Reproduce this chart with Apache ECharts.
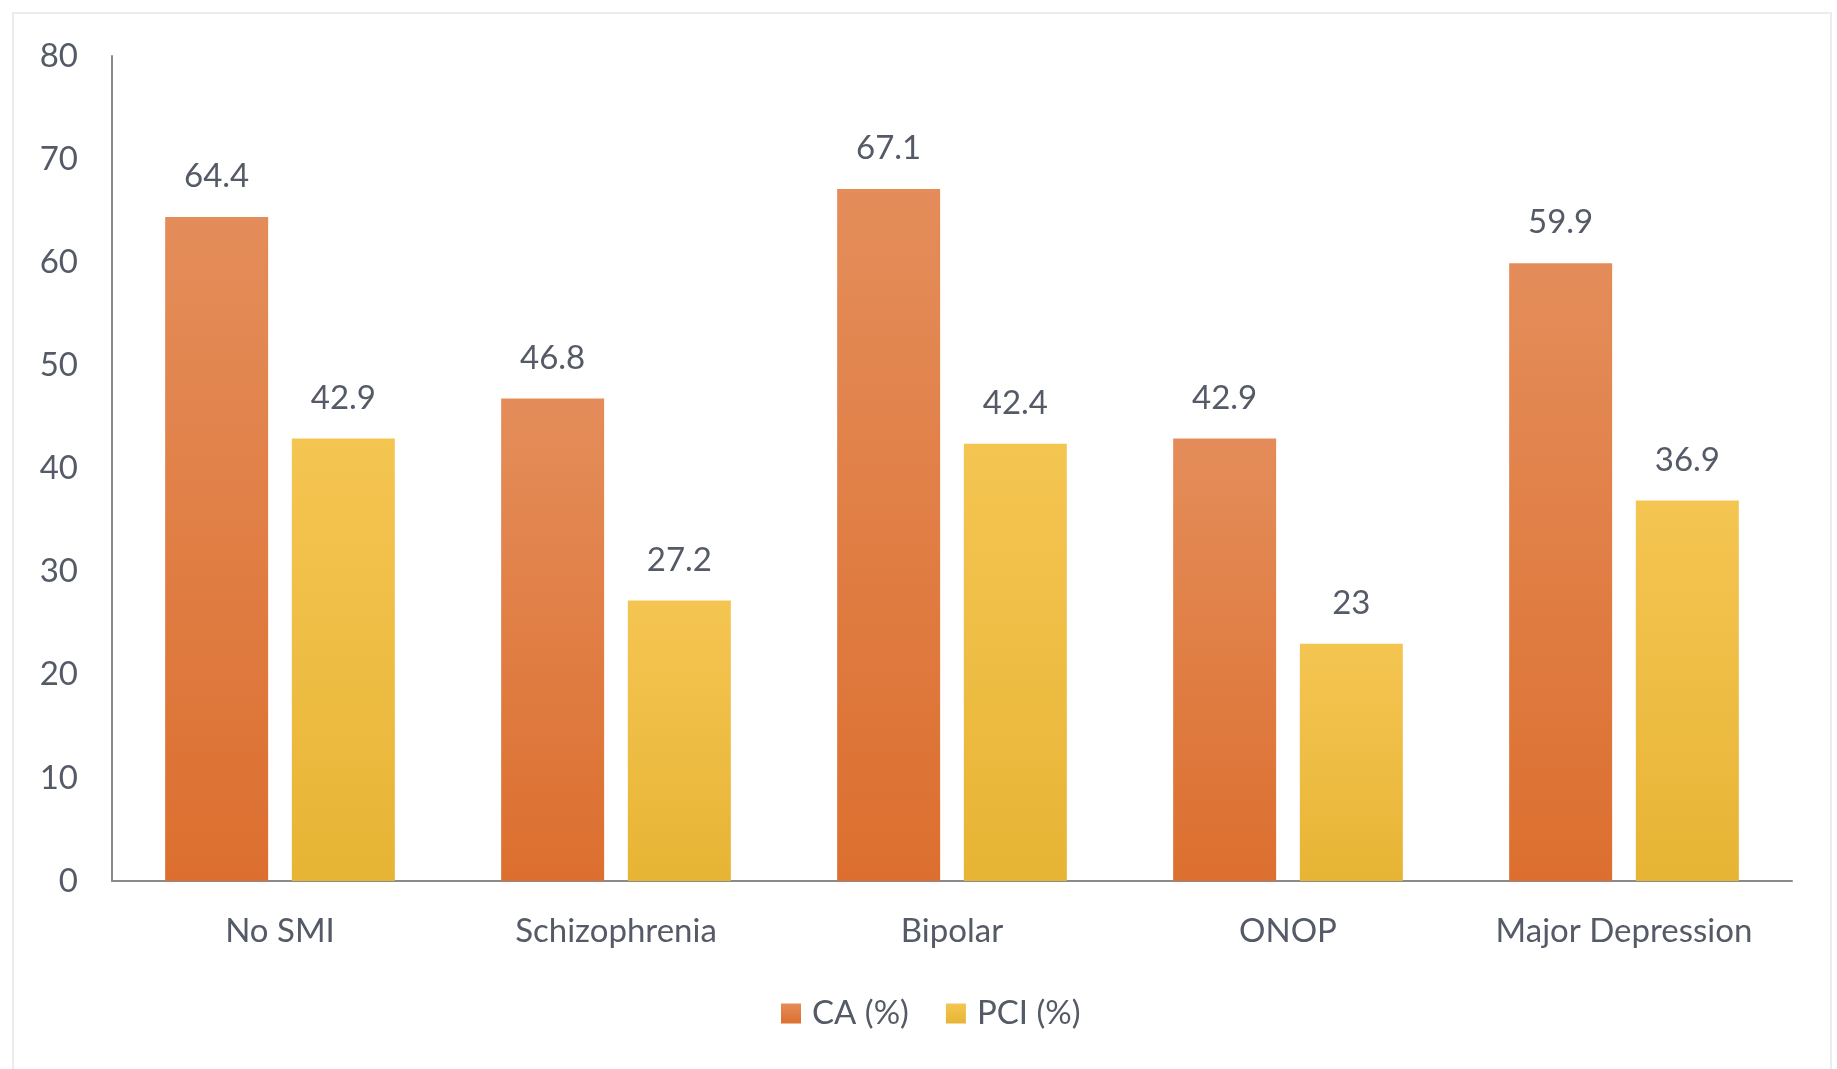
<!DOCTYPE html>
<html>
<head>
<meta charset="utf-8">
<script src="https://cdn.jsdelivr.net/npm/echarts@6/dist/echarts.min.js"></script>
<style>
html,body{margin:0;padding:0;background:#fff;}
#chart{width:1837px;height:1069px;}
</style>
</head>
<body>
<div id="chart"></div>
<script>
var categories = ['No SMI', 'Schizophrenia', 'Bipolar', 'ONOP', 'Major Depression'];
var caValues = [64.4, 46.8, 67.1, 42.9, 59.9];
var pciValues = [42.9, 27.2, 42.4, 23, 36.9];
var seriesNames = ['CA (%)', 'PCI (%)'];
var yTicks = { min: 0, max: 80, interval: 10 };

var FONT = 'Lato, "Open Sans", sans-serif';
var TEXT = '#545a66';
var FS = 33;

function grad(top, bottom) {
  return new echarts.graphic.LinearGradient(0, 0, 0, 1, [
    { offset: 0, color: top },
    { offset: 1, color: bottom }
  ]);
}

var chart = echarts.init(document.getElementById('chart'));
chart.setOption({
  backgroundColor: '#ffffff',
  animation: false,
  graphic: [{
    type: 'rect',
    shape: { x: 13, y: 13, width: 1818, height: 1070 },
    style: { fill: 'none', stroke: '#ececec', lineWidth: 2 },
    silent: true
  }],
  grid: { left: 112, right: 45, top: 56, bottom: 188, containLabel: false },
  legend: {
    data: seriesNames,
    bottom: 34,
    left: 776,
    itemWidth: 20,
    itemHeight: 20,
    itemGap: 37,
    icon: 'rect',
    textStyle: { fontFamily: FONT, fontSize: FS, color: TEXT, padding: [0, 0, 0, 6] }
  },
  xAxis: {
    type: 'category',
    data: categories,
    axisLine: { show: true, lineStyle: { color: '#8a8a8a', width: 2 } },
    axisTick: { show: false },
    axisLabel: { fontFamily: FONT, fontSize: FS, color: TEXT, margin: 34 }
  },
  yAxis: {
    type: 'value',
    min: yTicks.min,
    max: yTicks.max,
    interval: yTicks.interval,
    axisLine: { show: true, lineStyle: { color: '#8a8a8a', width: 2 } },
    axisTick: { show: false },
    splitLine: { show: false },
    axisLabel: { fontFamily: FONT, fontSize: FS, color: TEXT, margin: 34 }
  },
  series: [
    {
      name: seriesNames[0],
      type: 'bar',
      data: caValues,
      barWidth: 103,
      barGap: '23%',
      itemStyle: { color: grad('#e48d5a', '#dc6f2f') },
      label: { show: true, position: 'top', distance: 24, fontFamily: FONT, fontSize: FS, color: TEXT }
    },
    {
      name: seriesNames[1],
      type: 'bar',
      data: pciValues,
      barWidth: 103,
      barGap: '23%',
      itemStyle: { color: grad('#f5c552', '#e6b535') },
      label: { show: true, position: 'top', distance: 24, fontFamily: FONT, fontSize: FS, color: TEXT }
    }
  ]
});
</script>
</body>
</html>
